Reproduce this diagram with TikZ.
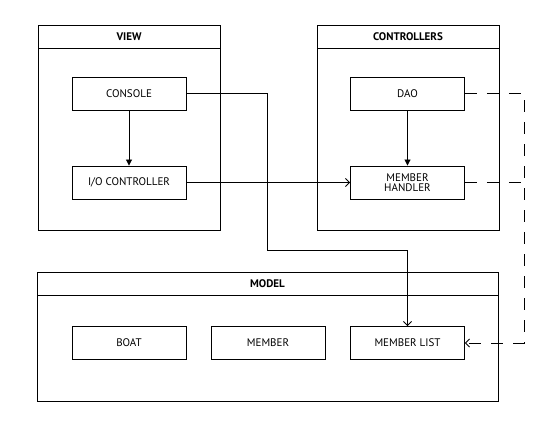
\documentclass[tikz,border=0pt]{standalone}
\usepackage{fontspec}
\setmainfont{PT Sans}
\usetikzlibrary{arrows.meta}

\tikzset{
  box/.style={draw, line width=0.9pt, minimum width=114, minimum height=33, inner sep=1pt, align=center, font=\fontsize{11}{10.5}\selectfont},
  layer/.style={draw, line width=0.9pt},
  head/.style={draw, line width=0.9pt, minimum height=23, font=\bfseries\fontsize{11}{11}\selectfont},
  solidtip/.style={-{Triangle[length=6pt,width=6pt]}},
  opentip/.style={-{Straight Barb[length=4pt,width=8pt]}},
}

\begin{document}
\begin{tikzpicture}[x=1pt,y=-1pt,line width=0.9pt]
        \useasboundingbox (0,0) rectangle (559,435);
        % layers
        \node[layer, minimum width=182, minimum height=205] (view) at (129,127.5) {};
        \node[head, minimum width=182] (viewhead) at (129,36.5) {VIEW};
        \node[layer, minimum width=182, minimum height=205] (ctrl) at (408,127.5) {};
        \node[head, minimum width=182] (ctrlhead) at (408,36.5) {CONTROLLERS};
        \node[layer, minimum width=461, minimum height=129] (model) at (267.5,336.5) {};
        \node[head, minimum width=461] (modelhead) at (267.5,283.5) {MODEL};

        % classes
        \node[box] (console) at (129,93.5) {CONSOLE};
        \node[box] (io) at (129,182.5) {I/O CONTROLLER};
        \node[box] (dao) at (407.5,93.5) {DAO};
        \node[box] (handler) at (407.5,182.5) {MEMBER\\HANDLER};
        \node[box] (boat) at (129,343) {BOAT};
        \node[box] (member) at (268,343) {MEMBER};
        \node[box] (mlist) at (407.5,343) {MEMBER LIST};

        \coordinate (bend) at (267,250);
        \coordinate (rail) at (524,93.5);
        \coordinate (railmid) at (524,182.5);

        \draw[solidtip] (console) -- (io);
        \draw[solidtip] (dao) -- (handler);
        \draw[opentip] (io) -- (handler);
        \draw[opentip] (console.east) -| (bend) -| (mlist.north);
        \draw[dash pattern=on 12pt off 10pt] (handler.east) -- (railmid);
        \draw[opentip, dash pattern=on 12pt off 10pt] (dao.east) -- (rail) |- (mlist.east);
\end{tikzpicture}
\end{document}
